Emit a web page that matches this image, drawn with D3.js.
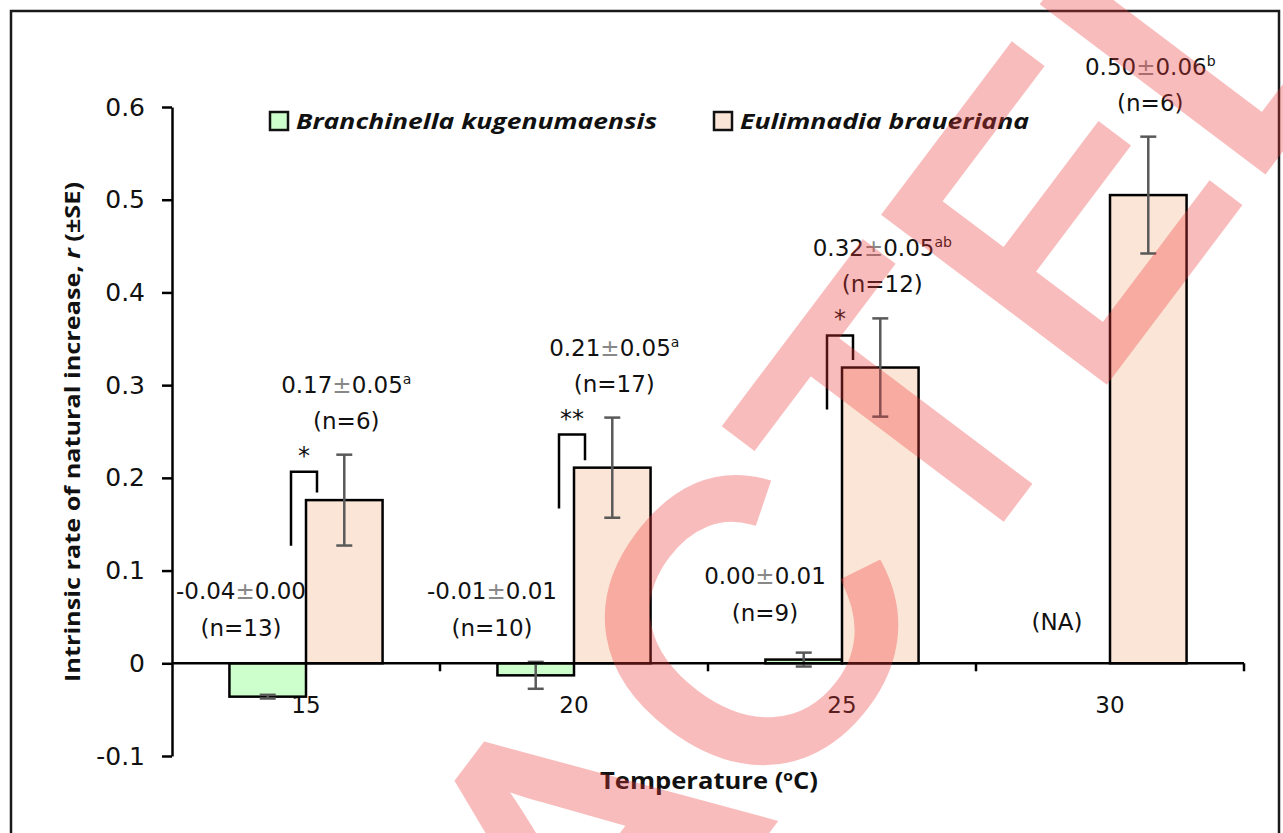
<!DOCTYPE html>
<html>
<head>
<meta charset="utf-8">
<script src="https://cdn.jsdelivr.net/npm/d3@7"></script>
<style>
  body { margin: 0; background: #fff; }
  svg { display: block; }
</style>
</head>
<body>
<svg id="chart"></svg>
<script>
// values
const temps = ['15', '20', '25', '30'];
const species = ['Branchinella kugenumaensis', 'Eulimnadia braueriana'];

const branchMean = [-0.036, -0.013, 0.004, null];
const branchSE = [0.002, 0.0145, 0.0075, null];
const branchText = ['-0.04±0.00', '-0.01±0.01', '0.00±0.01', '(NA)'];
const branchN = ['(n=13)', '(n=10)', '(n=9)', ''];

const eulimMean = [0.176, 0.211, 0.319, 0.505];
const eulimSE = [0.049, 0.054, 0.053, 0.063];
const eulimText = ['0.17±0.05', '0.21±0.05', '0.32±0.05', '0.50±0.06'];
const eulimLetter = ['a', 'a', 'ab', 'b'];
const eulimN = ['(n=6)', '(n=17)', '(n=12)', '(n=6)'];

const stars = ['*', '**', '*', ''];
const yTicks = [-0.1, 0, 0.1, 0.2, 0.3, 0.4, 0.5, 0.6];

const width = 1283, height = 833;
const numFont = '"DejaVu Sans", Verdana, sans-serif';
const titleFont = '"Open Sans", "Liberation Sans", sans-serif';
const colors = { b: '#ccffcc', e: '#fbe5d6' };

const svg = d3.select('#chart')
    .attr('width', width)
    .attr('height', height);

svg.append('rect')
    .attr('width', width)
    .attr('height', height)
    .attr('fill', '#fff');

// outer frame
svg.append('rect')
    .attr('x', 11).attr('y', 11)
    .attr('width', 1268).attr('height', 900)
    .attr('fill', 'none')
    .attr('stroke', '#1a1a1a')
    .attr('stroke-width', 2.5);

const y = d3.scaleLinear()
    .domain([-0.1, 0.6])
    .range([756, 107]);

const x = d3.scaleBand()
    .domain(temps)
    .range([172, 1244]);

const xs = d3.scaleBand()
    .domain(['b', 'e'])
    .range([0, x.bandwidth()])
    .paddingInner(0)
    .paddingOuter(0.75);

// y axis
const yAxis = d3.axisLeft(y)
    .tickValues(yTicks)
    .tickSize(10)
    .tickSizeOuter(0)
    .tickPadding(17)
    .tickFormat(d => String(d));

const gy = svg.append('g')
    .attr('transform', 'translate(172,0)')
    .call(yAxis);
gy.select('.domain').attr('stroke', '#000').attr('stroke-width', 2.5);
gy.selectAll('.tick line').attr('stroke', '#000').attr('stroke-width', 2.5);
gy.selectAll('.tick text')
    .attr('font-family', numFont)
    .attr('font-size', 25)
    .attr('fill', '#111');

// x category labels (under the bars, as in the original)
svg.append('g')
    .selectAll('text')
    .data(temps)
    .enter()
    .append('text')
    .attr('x', d => x(d) + x.bandwidth() / 2)
    .attr('y', y(0) + 42)
    .attr('dy', '0.35em')
    .attr('text-anchor', 'middle')
    .attr('font-family', numFont)
    .attr('font-size', 23)
    .attr('fill', '#111')
    .text(d => d);

// bars
const rows = temps.map((t, i) => ({
    t: t,
    b: branchMean[i], bse: branchSE[i],
    e: eulimMean[i], ese: eulimSE[i]
}));

const bars = svg.append('g');
rows.forEach(r => {
    [['b', r.b], ['e', r.e]].forEach(([k, v]) => {
        if (v === null) return;
        bars.append('rect')
            .attr('x', x(r.t) + xs(k))
            .attr('y', y(Math.max(0, v)))
            .attr('width', xs.bandwidth())
            .attr('height', Math.abs(y(v) - y(0)))
            .attr('fill', colors[k])
            .attr('stroke', '#000')
            .attr('stroke-width', 2.5);
    });
});

// error bars
const errs = svg.append('g')
    .attr('stroke', '#595959')
    .attr('stroke-width', 2.5);
rows.forEach(r => {
    [['b', r.b, r.bse], ['e', r.e, r.ese]].forEach(([k, v, se]) => {
        if (v === null) return;
        const cx = x(r.t) + xs(k) + xs.bandwidth() / 2;
        errs.append('line')
            .attr('x1', cx).attr('x2', cx)
            .attr('y1', y(v + se)).attr('y2', y(v - se));
        [v + se, v - se].forEach(e => {
            errs.append('line')
                .attr('x1', cx - 8).attr('x2', cx + 8)
                .attr('y1', y(e)).attr('y2', y(e));
        });
    });
});

// x axis line with ticks between categories
const gx = svg.append('g')
    .attr('stroke', '#000')
    .attr('stroke-width', 2.5);
gx.append('line')
    .attr('x1', x.range()[0]).attr('x2', x.range()[1])
    .attr('y1', y(0)).attr('y2', y(0));
temps.slice(1).map(t => x(t)).concat([x.range()[1]]).forEach(bx => {
    gx.append('line')
        .attr('x1', bx).attr('x2', bx)
        .attr('y1', y(0)).attr('y2', y(0) + 8);
});

// value labels
function valueLabel(g, cx, cy, txt, sup) {
    const parts = txt.split('±');
    const t = g.append('text')
        .attr('x', cx)
        .attr('y', cy)
        .attr('dy', '0.35em')
        .attr('text-anchor', 'middle')
        .attr('font-family', numFont)
        .attr('font-size', 23)
        .attr('fill', '#111');
    t.append('tspan').text(parts[0]);
    if (parts.length > 1) {
        t.append('tspan').attr('fill', '#888').text('±');
        t.append('tspan').text(parts[1]);
    }
    if (sup) {
        t.append('tspan')
            .attr('dy', -9)
            .attr('font-size', 14)
            .text(sup);
    }
}

const labels = svg.append('g');

// Branchinella labels sit left of their bars; nudges in pixels
const branchNudge = [[-65, 0], [-82, 0], [-77, -15], [-53, 31]];
rows.forEach((r, i) => {
    const cx = x(r.t) + x.bandwidth() / 2 + branchNudge[i][0];
    const cy = y(0.078) + branchNudge[i][1];
    valueLabel(labels, cx, cy, branchText[i], '');
    if (branchN[i]) valueLabel(labels, cx, cy + 37, branchN[i], '');
});

// Eulimnadia labels above the error bars
rows.forEach((r, i) => {
    const cx = x(r.t) + xs('e') + xs.bandwidth() / 2 + 2;
    const top = y(r.e + r.ese);
    valueLabel(labels, cx, top - 70, eulimText[i], eulimLetter[i]);
    valueLabel(labels, cx, top - 34, eulimN[i], '');
});

// significance brackets
const brackets = svg.append('g');
rows.forEach((r, i) => {
    if (!stars[i]) return;
    const left = x(r.t) + xs('e');
    const x1 = left - 15, x2 = left + 11;
    const top = y(r.e + r.ese) + 17;
    brackets.append('path')
        .attr('d', `M${x1},${top + 74} V${top} H${x2} V${y(r.e) - 7.5}`)
        .attr('fill', 'none')
        .attr('stroke', '#000')
        .attr('stroke-width', 2.5);
    brackets.append('text')
        .attr('x', (x1 + x2) / 2)
        .attr('y', top - 8)
        .attr('text-anchor', 'middle')
        .attr('font-family', numFont)
        .attr('font-size', 24)
        .attr('fill', '#111')
        .text(stars[i]);
});

// axis titles
const yTitle = svg.append('text')
    .attr('transform', 'translate(80,432) rotate(-90)')
    .attr('text-anchor', 'middle')
    .attr('font-family', titleFont)
    .attr('font-weight', 'bold')
    .attr('font-size', 22)
    .attr('fill', '#111')
    .attr('textLength', 500)
    .attr('lengthAdjust', 'spacingAndGlyphs');
yTitle.append('tspan').text('Intrinsic rate of natural increase, ');
yTitle.append('tspan').attr('font-style', 'italic').text('r');
yTitle.append('tspan').text(' (±SE)');

const xTitle = svg.append('text')
    .attr('x', 709)
    .attr('y', 781)
    .attr('dy', '0.35em')
    .attr('text-anchor', 'middle')
    .attr('font-family', titleFont)
    .attr('font-weight', 'bold')
    .attr('font-size', 23)
    .attr('fill', '#111')
    .attr('textLength', 218)
    .attr('lengthAdjust', 'spacingAndGlyphs');
xTitle.append('tspan').text('Temperature (');
xTitle.append('tspan').attr('dy', -8).attr('font-size', 14).text('o');
xTitle.append('tspan').attr('dy', 8).text('C)');

// legend
const legendX = [270, 714];
const legendW = [361, 289];
species.forEach((s, i) => {
    const k = i === 0 ? 'b' : 'e';
    svg.append('rect')
        .attr('x', legendX[i]).attr('y', 112)
        .attr('width', 18).attr('height', 18)
        .attr('fill', colors[k])
        .attr('stroke', '#111')
        .attr('stroke-width', 2.5);
    svg.append('text')
        .attr('x', legendX[i] + 26)
        .attr('y', 121)
        .attr('dy', '0.35em')
        .attr('font-family', titleFont)
        .attr('font-weight', 'bold')
        .attr('font-style', 'italic')
        .attr('font-size', 22)
        .attr('fill', '#111')
        .attr('textLength', legendW[i])
        .attr('lengthAdjust', 'spacingAndGlyphs')
        .text(s);
});

// watermark stamped over the figure
svg.append('g')
    .attr('opacity', 0.333)
    .append('text')
    .attr('transform', 'translate(109,1700) rotate(-53)')
    .attr('font-family', '"Liberation Sans", Arial, sans-serif')
    .attr('font-size', 395)
    .attr('fill', 'rgb(240,57,57)')
    .attr('stroke', 'rgb(240,57,57)')
    .attr('stroke-width', 11)
    .attr('stroke-linejoin', 'miter')
    .text('REDACTED');
</script>
</body>
</html>
